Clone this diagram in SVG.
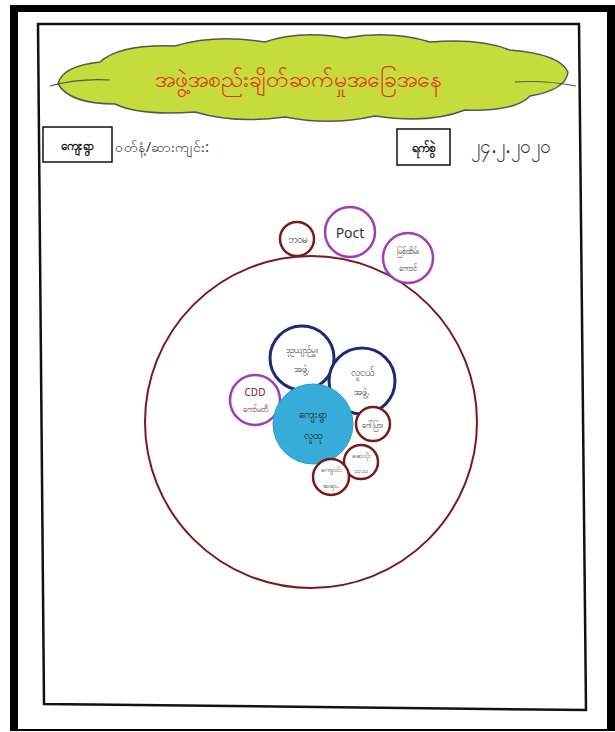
<svg xmlns="http://www.w3.org/2000/svg" width="615" height="732" viewBox="0 0 615 732">
<style>
.t{font-family:"Noto Sans","DejaVu Sans",sans-serif;text-anchor:middle;dominant-baseline:central}
.hand{fill:#333}
.brown{fill:#fff;stroke:#7a1a1a;stroke-width:2.5}
.purple{fill:#fff;stroke:#a43cb4;stroke-width:2.5}
.navy{fill:#fff;stroke:#1e2a78;stroke-width:3}
.lbl{fill:#fff;stroke:#111;stroke-width:1.5}
</style>
<rect width="615" height="732" fill="#fff"/>
<!-- outer frame -->
<path d="M10 5 H615 V731 H10 Z M18 12 V729 H607 V12 Z" fill="#000" fill-rule="evenodd"/>
<!-- inner frame -->
<polygon points="38,24 579,24 586,710 44,704" fill="none" stroke="#111" stroke-width="2.5"/>

<g id="title">
<path d="M58 84 Q62 66 100 62 Q120 44 175 46 Q215 34 265 42 Q300 30 345 38 Q390 30 430 42 Q480 38 510 50 Q560 54 568 72 Q566 90 530 96 Q515 112 465 110 Q430 124 375 116 Q330 126 285 117 Q235 124 195 112 Q140 116 115 104 Q70 104 58 84 Z" fill="#c6dc3c" stroke="#555" stroke-width="1.5"/>
<path d="M50 86 Q80 78 110 80" fill="none" stroke="#555" stroke-width="1.2"/>
<path d="M515 82 Q545 80 576 86" fill="none" stroke="#555" stroke-width="1.2"/>
<text class="t" x="298" y="78" font-size="23" fill="#e2301c">အဖွဲ့အစည်းချိတ်ဆက်မှုအခြေအနေ</text>
</g>

<g id="village">
<rect class="lbl" x="43" y="127" width="69" height="35"/>
<text class="t" x="77" y="145" font-size="12" fill="#111" font-weight="bold">ကျေးရွာ</text>
<text class="t hand" x="162" y="146" font-size="14">ဝတ်နံ့/ဆားကျင်း:</text>
</g>

<g id="date">
<rect class="lbl" x="397" y="129" width="53" height="36"/>
<text class="t" x="423" y="147" font-size="12" fill="#111" font-weight="bold">ရက်စွဲ</text>
<text class="t hand" x="511" y="146" font-size="19">၂၄.၂.၂၀၂၀</text>
</g>

<g id="big-circle">
<circle cx="311" cy="422" r="166" fill="none" stroke="#7a1a1a" stroke-width="2"/>
</g>

<g id="n-bawama">
<circle class="brown" cx="297" cy="239" r="17"/>
<text class="t hand" x="297" y="239" font-size="10">ဘဝမ</text>
</g>
<g id="n-poct">
<circle class="purple" cx="350" cy="232" r="25"/>
<text class="t hand" x="350" y="232" font-size="14" font-family="Liberation Sans">Poct</text>
</g>
<g id="n-myit">
<circle class="purple" cx="408" cy="258" r="25"/>
<text class="t hand" x="408" y="250" font-size="8">မြစ်ထိမ်း</text>
<text class="t hand" x="408" y="267" font-size="8">ကောင်</text>
</g>

<g id="n-deputy">
<circle class="navy" cx="302" cy="358" r="32"/>
<text class="t hand" x="302" y="349" font-size="8.5">ဒုဥယျာဉ်မှူး</text>
<text class="t hand" x="302" y="368" font-size="9">အဖွဲ့.</text>
</g>
<g id="n-youth">
<circle class="navy" cx="362" cy="381" r="33"/>
<text class="t hand" x="362" y="372" font-size="10">လူငယ်</text>
<text class="t hand" x="362" y="391" font-size="9">အဖွဲ့.</text>
</g>
<g id="n-cdd">
<circle class="purple" cx="255" cy="400" r="25"/>
<text class="t" x="255" y="392" font-size="10" fill="#8a1a1a">CDD</text>
<text class="t" x="255" y="408" font-size="8" fill="#8a1a1a">ကော်မတီ</text>
</g>
<g id="n-community">
<circle cx="313" cy="424" r="40" fill="#38acd8" stroke="#2e9cc8" stroke-width="1"/>
<text class="t" x="313" y="414" font-size="10" fill="#111">ကျေးရွာ</text>
<text class="t" x="313" y="435" font-size="10" fill="#111">လူထု</text>
</g>
<g id="n-gawpya">
<circle class="brown" cx="373" cy="424" r="17"/>
<text class="t hand" x="373" y="424" font-size="8">ဂေါ်ပြား</text>
</g>
<g id="n-health">
<circle class="brown" cx="361" cy="462" r="17"/>
<text class="t hand" x="361" y="455" font-size="7">ဆေးပိုး</text>
<text class="t hand" x="361" y="470" font-size="7">သသ</text>
</g>
<g id="n-school">
<circle class="brown" cx="331" cy="477" r="18"/>
<text class="t hand" x="331" y="469" font-size="7">ကျောင်း</text>
<text class="t hand" x="331" y="485" font-size="7">ဆရာ.</text>
</g>
<g id="connectors"></g>
</svg>
